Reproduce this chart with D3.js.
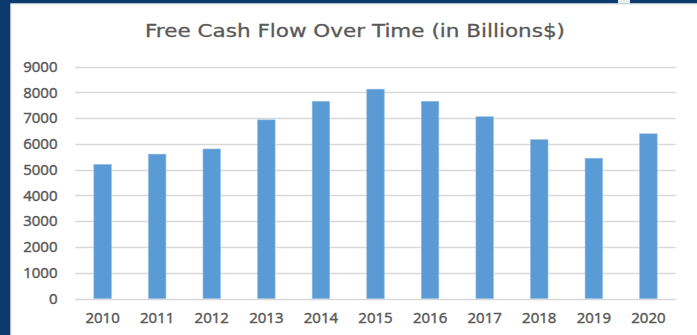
<!DOCTYPE html>
<html>
<head>
<meta charset="utf-8">
<script src="https://cdn.jsdelivr.net/npm/d3@7"></script>
<style>
  html, body { margin: 0; padding: 0; background: #ffffff; }
  svg { display: block; }
</style>
</head>
<body>
<svg id="chart" width="697" height="335"></svg>
<script>
// Free cash flow per year, in billions of dollars
const years = ["2010", "2011", "2012", "2013", "2014", "2015", "2016", "2017", "2018", "2019", "2020"];
const cashFlow = [5200, 5600, 5800, 6930, 7650, 8120, 7650, 7050, 6160, 5440, 6390];
const yTicks = [0, 1000, 2000, 3000, 4000, 5000, 6000, 7000, 8000, 9000];
const chartTitle = "Free Cash Flow Over Time (in Billions$)";

const W = 697, H = 335;
const svg = d3.select("#chart");
const font = "'Open Sans', 'Noto Sans', sans-serif";
const titleFont = "'DejaVu Sans', 'Open Sans', sans-serif";
const textColor = "#595959";

// Slide frame: navy band on the left and along the top
svg.append("rect").attr("x", 0).attr("y", 0).attr("width", W).attr("height", H).attr("fill", "#ffffff");
svg.append("rect").attr("x", 0).attr("y", 0).attr("width", W).attr("height", 3.5).attr("fill", "#0d3a6d");
svg.append("rect").attr("x", 0).attr("y", 0).attr("width", 10.5).attr("height", H).attr("fill", "#0d3a6d");
svg.append("rect").attr("x", 618).attr("y", 0).attr("width", 12).attr("height", 3.5).attr("fill", "#e8ebee");
svg.append("line").attr("x1", 10.5).attr("x2", W).attr("y1", 4).attr("y2", 4)
  .attr("stroke", "#dfe2e6").attr("stroke-width", 1);
svg.append("line").attr("x1", 11).attr("x2", 11).attr("y1", 4).attr("y2", H)
  .attr("stroke", "#dfe2e6").attr("stroke-width", 1);

const margin = { left: 75.3, right: 697 - 675.7, top: 66.5, bottom: 335 - 298.5 };

const x = d3.scaleBand()
  .domain(years)
  .range([margin.left, W - margin.right])
  .paddingInner(0.68)
  .paddingOuter(0.34);

const y = d3.scaleLinear()
  .domain([0, 9000])
  .range([H - margin.bottom, margin.top]);

// Horizontal gridlines
svg.append("g")
  .selectAll("line")
  .data(yTicks)
  .join("line")
  .attr("x1", margin.left)
  .attr("x2", W - margin.right)
  .attr("y1", d => Math.round(y(d)) + 0.5)
  .attr("y2", d => Math.round(y(d)) + 0.5)
  .attr("stroke", "#d9d9d9")
  .attr("stroke-width", 1.5);

// Bars
svg.append("g")
  .selectAll("rect")
  .data(years.map((yr, i) => ({ yr, v: cashFlow[i] })))
  .join("rect")
  .attr("x", d => x(d.yr))
  .attr("y", d => y(d.v))
  .attr("width", x.bandwidth())
  .attr("height", d => y(0) - y(d.v))
  .attr("fill", "#5b9bd5")
  .attr("stroke", "#8fbbe3")
  .attr("stroke-width", 0.6);

// Medium-weight label styling shared by both axes
function styleLabels(sel) {
  sel.attr("fill", textColor)
    .attr("stroke", textColor)
    .attr("stroke-width", 0.45)
    .attr("font-family", font)
    .attr("font-size", "15px");
}

// Y axis labels
const yAxis = d3.axisLeft(y).tickValues(yTicks).tickSize(0).tickPadding(0).tickFormat(d3.format("d"));
const gy = svg.append("g").attr("transform", `translate(57.5,0)`).call(yAxis);
gy.select(".domain").remove();
gy.selectAll("text").call(styleLabels);

// X axis labels
const xAxis = d3.axisBottom(x).tickSize(0).tickPadding(0);
const gx = svg.append("g").attr("transform", `translate(0,${y(0) + 13.5})`).call(xAxis);
gx.select(".domain").remove();
gx.selectAll("text").call(styleLabels);

// Title
svg.append("text")
  .attr("x", 145)
  .attr("y", 36.7)
  .attr("textLength", 420)
  .attr("lengthAdjust", "spacingAndGlyphs")
  .attr("fill", textColor)
  .attr("stroke", textColor)
  .attr("stroke-width", 0.3)
  .attr("font-family", titleFont)
  .attr("font-size", "18px")
  .text(chartTitle);
</script>
</body>
</html>
